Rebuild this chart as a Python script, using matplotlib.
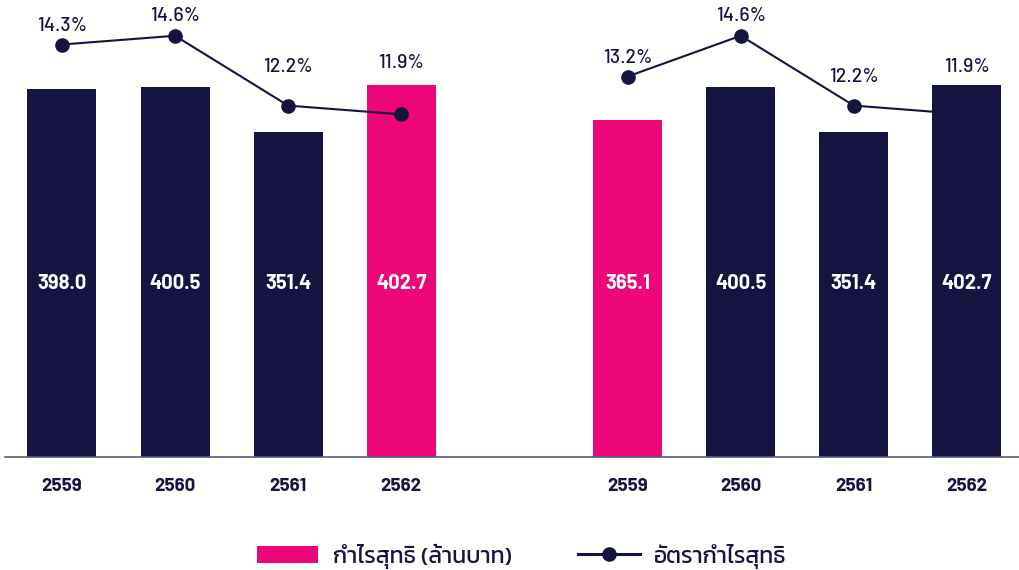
import matplotlib
matplotlib.use('Agg')

import matplotlib.pyplot as plt
from matplotlib import font_manager
from matplotlib.patches import Patch
from matplotlib.lines import Line2D

# data
years = ['2559', '2560', '2561', '2562']
profit_left = [398.0, 400.5, 351.4, 402.7]
margin_left = [14.3, 14.6, 12.2, 11.9]
profit_right = [365.1, 400.5, 351.4, 402.7]
margin_right = [13.2, 14.6, 12.2, 11.9]
highlight_left = 3   # index of pink bar
highlight_right = 0
legend_labels = ['กำไรสุทธิ (ล้านบาท)', 'อัตรากำไรสุทธิ']

NAVY = '#151340'
PINK = '#EC0677'
AXIS = '#5a5a78'

available = {f.name for f in font_manager.fontManager.ttflist}


def pick(*names):
    for n in names:
        if n in available:
            return n
    return 'DejaVu Sans'


num_font = [pick('Barlow', 'Roboto'), 'DejaVu Sans']
thai_font = [pick('Kanit', 'Prompt', 'Noto Sans Thai'), 'DejaVu Sans']

fig = plt.figure(figsize=(10.19, 5.70), dpi=100)
ax = fig.add_axes([5 / 1019, 113 / 570, 1014 / 1019, 457 / 570])
ax2 = ax.twinx()

x_left = [0, 1, 2, 3]
x_right = [5, 6, 7, 8]
bar_w = 0.61

colors_left = [PINK if i == highlight_left else NAVY for i in range(4)]
colors_right = [PINK if i == highlight_right else NAVY for i in range(4)]

# ax sits above ax2 so the left line can be drawn over the bars
ax.set_zorder(2)
ax.patch.set_visible(False)

ax.bar(x_left, profit_left, width=bar_w, color=colors_left, zorder=2)
ax.bar(x_right, profit_right, width=bar_w, color=colors_right, zorder=2)

# value labels inside bars
for xs, vals in ((x_left, profit_left), (x_right, profit_right)):
    for xi, v in zip(xs, vals):
        ax.text(xi, 188, f'{v:.1f}', ha='center', va='center', color='white',
                fontsize=14.5, fontweight='bold', family=num_font, zorder=5)

ax.set_xlim(-0.503, 8.46)
ax.set_ylim(0, 494.6)
ax.set_xticks(x_left + x_right)
ax.set_xticklabels(years + years)
ax.tick_params(axis='x', length=0, pad=15, labelsize=13.5, colors=NAVY)
for lab in ax.get_xticklabels():
    lab.set_fontweight('bold')
    lab.set_family(num_font)
ax.set_yticks([])
for s in ('top', 'right', 'left'):
    ax.spines[s].set_visible(False)
ax.spines['bottom'].set_color(AXIS)
ax.spines['bottom'].set_linewidth(1.2)

ax2.set_ylim(0.12, 15.83)
ax2.set_xlim(ax.get_xlim())
ax2.axis('off')

# left line over the bars, right line behind them (as in the source)
ax.plot(x_left, margin_left, color=NAVY, lw=1.5, marker='o', markersize=9.5,
        transform=ax2.transData, zorder=4, clip_on=False)
ax2.plot(x_right, margin_right, color=NAVY, lw=1.5, marker='o', markersize=9.5,
         zorder=1, clip_on=False)

label_dy_left = [19, 20, 39, 51]
label_dy_right = [19, 20, 29, 47]
for xs, vals, dys in ((x_left, margin_left, label_dy_left),
                      (x_right, margin_right, label_dy_right)):
    for xi, v, dy in zip(xs, vals, dys):
        ax2.annotate(f'{v:.1f}%', xy=(xi, v), xytext=(0, dy),
                     textcoords='offset pixels', ha='center', va='center',
                     fontsize=14, fontweight='medium', color=NAVY, family=num_font,
                     annotation_clip=False)

handles = [Patch(facecolor=PINK, edgecolor='none'),
           Line2D([], [], color=NAVY, lw=2.2, marker='o', markersize=9.5)]
fig.legend(handles, legend_labels, loc='center', bbox_to_anchor=(521.5 / 1019, 1 - 556 / 570),
           ncol=2, frameon=False, prop={'family': thai_font, 'size': 16.5},
           handlelength=2.7, handleheight=0.79, columnspacing=2.9, handletextpad=0.62,
           labelcolor=NAVY, borderpad=0, borderaxespad=0)

fig.savefig('out.png', dpi=100)
plt.close()
